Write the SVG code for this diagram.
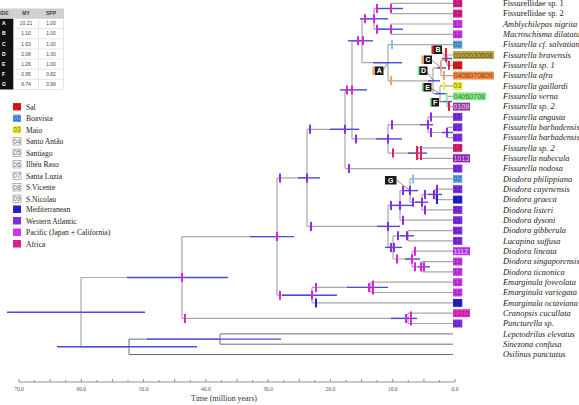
<svg xmlns="http://www.w3.org/2000/svg" xmlns:xlink="http://www.w3.org/1999/xlink" width="579" height="405" viewBox="0 0 579 405">
<style>
.br{stroke:#a8a8a8;stroke-width:1.2;fill:none}
.og{stroke:#6e6e6e;stroke-width:1;fill:none}
.hpd{stroke:#4a4ae2;stroke-width:1.4}
.tk{stroke-width:2;fill:none}
.m{stroke:#e020e0}.p{stroke:#8a2be8}.r{stroke:#e8203a}.r2{stroke:#e0205e}.b{stroke:#2020c8}
.lb{stroke:#80c0ee}.o{stroke:#f0a060}.y{stroke:#eeee40}.g{stroke:#a0eea0}
.sp{font-family:"Liberation Serif","Times New Roman",serif;font-size:8.4px;font-style:italic;fill:#222}
.up{font-style:normal}
.bt{font-family:"Liberation Sans",Arial,sans-serif;font-size:7px}
.lg{font-family:"Liberation Serif","Times New Roman",serif;font-size:7.6px;fill:#222}
.tb{font-family:"Liberation Sans",Arial,sans-serif;font-size:5px;fill:#444;text-anchor:middle}
.ax{font-family:"Liberation Serif","Times New Roman",serif;font-size:5.5px;fill:#555;text-anchor:middle}
.lt{font-family:"Liberation Sans",Arial,sans-serif;font-size:7px;font-weight:bold;fill:#fff;text-anchor:middle}
.ld{stroke:#444;stroke-width:0.6}
</style>
<defs>
<path id="tk" d="M0-4.5V4.5"/>
<path id="tkl" d="M0-7V7"/>
</defs>

<!-- table -->
<g id="table">
<rect x="-2" y="8.5" width="66" height="10" fill="#d0d0d0"/>
<rect x="-2" y="18.5" width="15.5" height="71" fill="#111"/>
<g stroke="#d4d4d4" stroke-width="0.6" fill="none">
<path d="M13.5 8.5V89.5M38.5 8.5V89.5M63.5 8.5V89.5M-2 18.5H63.5M13.5 28.6H63.5M13.5 38.8H63.5M13.5 48.9H63.5M13.5 59H63.5M13.5 69.2H63.5M13.5 79.3H63.5M13.5 89.5H63.5"/>
</g>
<text class="tb" x="8.5" y="15.3" style="text-anchor:end;font-weight:bold">CODE</text>
<text class="tb" x="26" y="15.3" style="font-weight:bold">MY</text>
<text class="tb" x="51" y="15.3" style="font-weight:bold">SPP</text>
<g class="tb" style="fill:#fff;font-weight:bold;text-anchor:start">
<text x="2" y="25.3">A</text><text x="2" y="35.4">B</text><text x="2" y="45.5">C</text><text x="2" y="55.6">D</text><text x="2" y="65.8">E</text><text x="2" y="75.9">F</text><text x="2" y="86">G</text>
</g>
<text class="tb" x="26" y="25.3">10.21</text><text class="tb" x="51" y="25.3">1.00</text>
<text class="tb" x="26" y="35.4">1.10</text><text class="tb" x="51" y="35.4">1.00</text>
<text class="tb" x="26" y="45.5">1.63</text><text class="tb" x="51" y="45.5">1.00</text>
<text class="tb" x="26" y="55.6">2.08</text><text class="tb" x="51" y="55.6">1.00</text>
<text class="tb" x="26" y="65.8">1.26</text><text class="tb" x="51" y="65.8">1.00</text>
<text class="tb" x="26" y="75.9">0.95</text><text class="tb" x="51" y="75.9">0.82</text>
<text class="tb" x="26" y="86">6.74</text><text class="tb" x="51" y="86">0.99</text>
</g>

<!-- legend -->
<g id="legend">
<g id="lg-01"><rect x="13" y="103" width="8" height="7.5" fill="#e01c1c"/><text class="bt" x="13.3" y="109.2" fill="#960808" style="font-size:6.5px">01</text><text class="lg" x="26" y="109.5">Sal</text></g>
<g id="lg-02"><rect x="13" y="114.5" width="8" height="7.5" fill="#5fa8e0"/><text class="bt" x="13.3" y="120.7" fill="#1c4c94" style="font-size:6.5px">02</text><text class="lg" x="26" y="121">Boavista</text></g>
<g id="lg-03"><rect x="13" y="126" width="8" height="7.5" fill="#f2ee3a"/><text class="bt" x="13.3" y="132.2" fill="#707000" style="font-size:6.5px">03</text><text class="lg" x="26" y="132.5">Maio</text></g>
<g id="lg-04"><rect x="13" y="137.5" width="8" height="7.5" fill="#fff" stroke="#888" stroke-width="0.6"/><text class="bt" x="13.3" y="143.7" fill="#666" style="font-size:6.5px">04</text><text class="lg" x="26" y="144">Santo Antão</text></g>
<g id="lg-05"><rect x="13" y="149" width="8" height="7.5" fill="#fff" stroke="#888" stroke-width="0.6"/><text class="bt" x="13.3" y="155.2" fill="#666" style="font-size:6.5px">05</text><text class="lg" x="26" y="155.5">Santiago</text></g>
<g id="lg-06"><rect x="13" y="160.5" width="8" height="7.5" fill="#fff" stroke="#888" stroke-width="0.6"/><text class="bt" x="13.3" y="166.7" fill="#666" style="font-size:6.5px">06</text><text class="lg" x="26" y="167">Ilhéu Raso</text></g>
<g id="lg-07"><rect x="13" y="172" width="8" height="7.5" fill="#fff" stroke="#888" stroke-width="0.6"/><text class="bt" x="13.3" y="178.2" fill="#666" style="font-size:6.5px">07</text><text class="lg" x="26" y="178.5">Santa Luzia</text></g>
<g id="lg-08"><rect x="13" y="183.5" width="8" height="7.5" fill="#fff" stroke="#888" stroke-width="0.6"/><text class="bt" x="13.3" y="189.7" fill="#666" style="font-size:6.5px">08</text><text class="lg" x="26" y="190">S.Vicente</text></g>
<g id="lg-09"><rect x="13" y="195" width="8" height="7.5" fill="#fff" stroke="#888" stroke-width="0.6"/><text class="bt" x="13.3" y="201.2" fill="#666" style="font-size:6.5px">09</text><text class="lg" x="26" y="201.5">S.Nicolau</text></g>
<g id="lg-10"><rect x="13" y="205.5" width="8" height="7.5" fill="#2222c8"/><text class="lg" x="26" y="212">Mediterranean</text></g>
<g id="lg-11"><rect x="13" y="217" width="8" height="7.5" fill="#7a30e0"/><text class="lg" x="26" y="223.5">Western Atlantic</text></g>
<g id="lg-12"><rect x="13" y="228.5" width="8" height="7.5" fill="#c93ae6"/><text class="lg" x="26" y="235">Pacific (Japan + California)</text></g>
<g id="lg-13"><rect x="13" y="240" width="8" height="7.5" fill="#d8228a"/><text class="lg" x="26" y="246.5">Africa</text></g>
</g>

<!-- connectors -->
<g id="connectors">
<path class="br" d="M81 277.5V346.8M81 277.5H182M81 346.8H129"/>
<path class="og" d="M129 339.1V354.5M129 339.1H220M129 354.5H453"/>
<path class="og" d="M220 333.9V344.2M220 333.9H453M220 344.2H453"/>
<path class="br" d="M182 236.6V318.4M182 236.6H277M182 318.4H408"/>
<path class="br" d="M408 313.2V323.5M408 313.2H453M408 323.5H453"/>
<path class="br" d="M277 177.9V295.2M277 177.9H307M277 295.2H312"/>
<path class="br" d="M312 287.4V302.9M312 287.4H371M312 302.9H453"/>
<path class="br" d="M371 282.2V292.5M371 282.2H453M371 292.5H453"/>
<path class="br" d="M307 129.3V226.4M307 129.3H345M307 226.4H388"/>
<path class="br" d="M345 89.9V168.6M345 89.9H352M345 168.6H453"/>
<path class="br" d="M352 40.8V138.9M352 40.8H362M352 138.9H388"/>
<path class="br" d="M362 18.8V62.7M362 18.8H374M362 62.7H388"/>
<path class="br" d="M374 8.5V29.2M374 8.5H391M374 29.2H391"/>
<path class="br" d="M391 3.3V13.6M391 3.3H453M391 13.6H453"/>
<path class="br" d="M391 24V34.3M391 24H453M391 34.3H453"/>
<path class="br" d="M388 44.6V80.8M388 44.6H453M388 80.8H433"/>
<path class="br" d="M433 67.9V93.7M433 67.9H441M433 93.7H440"/>
<path class="br" d="M441 60.2V75.6M441 60.2H447M441 75.6H453"/>
<path class="br" d="M447 55V65.3M447 55H453M447 65.3H453"/>
<path class="br" d="M440 85.9V101.5M440 85.9H453M440 101.5H447"/>
<path class="br" d="M447 96.3V106.6M447 96.3H453M447 106.6H453"/>
<path class="br" d="M388 124.7V153.1M388 124.7H428M388 153.1H418"/>
<path class="br" d="M428 116.9V132.5M428 116.9H453M428 132.5H447"/>
<path class="br" d="M447 127.3V137.6M447 127.3H453M447 137.6H453"/>
<path class="br" d="M418 147.9V158.3M418 147.9H453M418 158.3H453"/>
<path class="br" d="M388 205.4V247.4M388 205.4H400M388 247.4H393"/>
<path class="br" d="M400 190.6V220.2M400 190.6H410M400 220.2H453"/>
<path class="br" d="M410 178.9V202.2M410 178.9H453M410 202.2H422"/>
<path class="br" d="M422 194.4V209.9M422 194.4H435M422 209.9H453"/>
<path class="br" d="M435 189.2V199.6M435 189.2H453M435 199.6H453"/>
<path class="br" d="M393 235.8V259M393 235.8H408M393 259H412"/>
<path class="br" d="M408 230.6V240.9M408 230.6H453M408 240.9H453"/>
<path class="br" d="M412 251.2V266.8M412 251.2H453M412 266.8H422"/>
<path class="br" d="M422 261.6V271.9M422 261.6H453M422 271.9H453"/>
<g class="ld">
<path d="M383 70L388 62.7M441 51L446 58M431.5 60L441 67.5M426.5 71L433 80.5M430 88L440 93.5M438 102L446 101.5M396.5 180L410 190.5"/>
</g>
</g>

<!-- internal nodes: HPD bars and state ticks -->
<g id="n-root"><path class="hpd" d="M7 312.2H145"/></g>
<g id="n-out"><path class="hpd" d="M57 346.8H197"/></g>
<g id="n-lepsin"><path class="hpd" d="M147 339.1H281"/></g>
<g id="n-ingroup"><path class="hpd" d="M127 277.5H228"/><use href="#tk" x="182" y="277.5" class="tk m"/></g>
<g id="n-cranpunc"><path class="hpd" d="M391 318.4H417"/><use href="#tk" x="185" y="318.4" class="tk m"/><use href="#tk" x="406" y="318.4" class="tk m"/><use href="#tkl" x="411" y="318.4" class="tk m"/></g>
<g id="n-fiss"><path class="hpd" d="M250 236.6H294"/><use href="#tk" x="277" y="236.6" class="tk m"/></g>
<g id="n-emarg"><path class="hpd" d="M282 295.2H337"/><use href="#tk" x="280" y="295.2" class="tk m"/><use href="#tk" x="312" y="295.2" class="tk m"/><use href="#tk" x="316" y="302.9" class="tk b"/></g>
<g id="n-emfv"><path class="hpd" d="M347 287.4H388"/><use href="#tk" x="316" y="287.4" class="tk m"/><use href="#tk" x="369" y="287.4" class="tk m"/><use href="#tkl" x="373" y="287.4" class="tk m"/></g>
<g id="n-a1"><path class="hpd" d="M298 177.9H320"/><use href="#tk" x="280" y="177.9" class="tk p"/><use href="#tk" x="307" y="177.9" class="tk p"/></g>
<g id="n-x"><path class="hpd" d="M330 129.3H359"/><use href="#tk" x="310" y="129.3" class="tk p"/><use href="#tk" x="345" y="129.3" class="tk p"/><use href="#tk" x="349" y="168.6" class="tk p"/></g>
<g id="n-y"><path class="hpd" d="M340 89.9H367"/><use href="#tk" x="347" y="89.9" class="tk m"/><use href="#tk" x="352" y="89.9" class="tk m"/></g>
<g id="n-z"><path class="hpd" d="M348 40.8H373"/><use href="#tk" x="358" y="40.8" class="tk m"/><use href="#tk" x="363" y="40.8" class="tk m"/></g>
<g id="n-t"><path class="hpd" d="M360 18.8H388"/><use href="#tk" x="365" y="18.8" class="tk m"/><use href="#tk" x="374" y="18.8" class="tk m"/></g>
<g id="n-ff"><path class="hpd" d="M378 8.5H403"/><use href="#tk" x="377" y="8.5" class="tk m"/><use href="#tk" x="391" y="8.5" class="tk m"/></g>
<g id="n-am"><path class="hpd" d="M378 29.2H403"/><use href="#tk" x="377" y="29.2" class="tk m"/><use href="#tk" x="391" y="29.2" class="tk m"/></g>
<g id="n-A"><path class="hpd" d="M373 62.7H402"/><use href="#tk" x="392" y="44.6" class="tk lb"/><use href="#tk" x="391" y="80.8" class="tk o"/></g>
<g id="n-D"><path class="hpd" d="M428 80.8H440"/></g>
<g id="n-C"><path class="hpd" d="M437 67.9H446"/><use href="#tk" x="441" y="66" class="tk o"/><use href="#tk" x="444" y="75.6" class="tk o"/></g>
<g id="n-B"><path class="hpd" d="M442 58.5H452"/><use href="#tkl" x="446" y="55" class="tk r"/><use href="#tk" x="449" y="65.3" class="tk r"/></g>
<g id="n-E"><path class="hpd" d="M435 93.7H448"/><use href="#tk" x="444" y="85.9" class="tk y"/></g>
<g id="n-F"><path class="hpd" d="M443 101.5H452"/><use href="#tk" x="447" y="97" class="tk g"/><use href="#tk" x="449" y="106.6" class="tk r"/></g>
<g id="n-g2"><path class="hpd" d="M376 138.9H402"/><use href="#tk" x="356" y="138.9" class="tk p"/><use href="#tk" x="388" y="138.9" class="tk p"/></g>
<g id="n-n1"><path class="hpd" d="M420 124.7H433"/><use href="#tk" x="392" y="124.7" class="tk p"/><use href="#tk" x="428" y="124.7" class="tk p"/><use href="#tk" x="431" y="116.9" class="tk p"/></g>
<g id="n-bb"><path class="hpd" d="M442 132.5H453"/><use href="#tk" x="431" y="132.5" class="tk p"/><use href="#tk" x="447" y="132.5" class="tk p"/></g>
<g id="n-n2"><path class="hpd" d="M408 153.1H427"/><use href="#tk" x="393" y="153.1" class="tk r2"/><use href="#tkl" x="417" y="153.1" class="tk r2"/><use href="#tkl" x="421" y="153.1" class="tk r2"/></g>
<g id="n-da"><path class="hpd" d="M377 226.4H400"/><use href="#tk" x="311" y="226.4" class="tk p"/><use href="#tk" x="388" y="226.4" class="tk p"/></g>
<g id="n-d1"><path class="hpd" d="M390 205.4H412"/><use href="#tk" x="391" y="205.4" class="tk p"/><use href="#tk" x="400" y="205.4" class="tk p"/><use href="#tk" x="403" y="220.2" class="tk p"/></g>
<g id="n-G"><path class="hpd" d="M402 190.6H418"/><use href="#tk" x="403" y="190.6" class="tk p"/><use href="#tk" x="410" y="190.6" class="tk p"/><use href="#tk" x="413" y="178.9" class="tk lb"/></g>
<g id="n-dg2"><path class="hpd" d="M415 202.2H428"/><use href="#tk" x="413" y="202.2" class="tk p"/><use href="#tk" x="422" y="202.2" class="tk p"/><use href="#tk" x="425" y="209.9" class="tk p"/></g>
<g id="n-dg3"><path class="hpd" d="M428 194.4H442"/><use href="#tk" x="425" y="194.4" class="tk p"/><use href="#tk" x="434" y="194.4" class="tk p"/><use href="#tk" x="437" y="189.2" class="tk p"/><use href="#tk" x="437" y="199.6" class="tk b"/></g>
<g id="n-db"><path class="hpd" d="M385 247.4H402"/><use href="#tk" x="391" y="247.4" class="tk p"/><use href="#tk" x="394" y="247.4" class="tk p"/></g>
<g id="n-gl"><path class="hpd" d="M400 235.8H414"/><use href="#tk" x="398" y="235.8" class="tk p"/><use href="#tk" x="407" y="235.8" class="tk p"/></g>
<g id="n-dl"><path class="hpd" d="M405 259H420"/><use href="#tk" x="397" y="259" class="tk m"/><use href="#tk" x="412" y="259" class="tk m"/><use href="#tk" x="415" y="251.2" class="tk m"/></g>
<g id="n-st"><path class="hpd" d="M418 266.8H430"/><use href="#tk" x="415" y="266.8" class="tk m"/><use href="#tk" x="421" y="266.8" class="tk m"/><use href="#tk" x="424" y="266.8" class="tk m"/></g>

<!-- clade letter labels -->
<g id="lab-A"><rect x="372.5" y="66.5" width="4" height="8.5" fill="#f0a060"/><rect x="375" y="66.5" width="8.5" height="8.5" fill="#1a1a1a"/><text class="lt" x="379.2" y="73.3">A</text></g>
<g id="lab-B"><rect x="431.5" y="45.5" width="4" height="8.5" fill="#e01c1c"/><rect x="434" y="45.5" width="8" height="8.5" fill="#1a1a1a"/><text class="lt" x="438" y="52.3">B</text></g>
<g id="lab-C"><rect x="421.5" y="55.5" width="4" height="8.5" fill="#f0a060"/><rect x="424" y="55.5" width="8" height="8.5" fill="#1a1a1a"/><text class="lt" x="428" y="62.3">C</text></g>
<g id="lab-D"><rect x="417.5" y="66.5" width="4" height="8.5" fill="#90ea90"/><rect x="419.5" y="66.5" width="8" height="8.5" fill="#1a1a1a"/><text class="lt" x="423.5" y="73.3">D</text></g>
<g id="lab-E"><rect x="421.5" y="83" width="4" height="8.5" fill="#90ea90"/><rect x="423.5" y="83" width="8" height="8.5" fill="#1a1a1a"/><text class="lt" x="427.5" y="89.8">E</text></g>
<g id="lab-F"><rect x="429.5" y="98" width="4" height="8.5" fill="#90ea90"/><rect x="431.5" y="98" width="7.5" height="8.5" fill="#1a1a1a"/><text class="lt" x="435.2" y="104.8">F</text></g>
<g id="lab-G"><rect x="385" y="176" width="11.5" height="8.5" fill="#1a1a1a"/><text class="lt" x="390.7" y="182.8">G</text></g>

<!-- tips -->
<g id="tips">
<g id="t01"><rect x="453" y="-0.7" width="9.3" height="8" fill="#d8228a"/><text class="bt" x="453.6" y="5.8" fill="#9a0d5a">13</text><text class="sp up" x="503" y="6">Fissurellidae sp. 1</text></g>
<g id="t02"><rect x="453" y="9.6" width="9.3" height="8" fill="#d8228a"/><text class="bt" x="453.6" y="16.1" fill="#9a0d5a">13</text><text class="sp up" x="503" y="16.4">Fissurellidae sp. 2</text></g>
<g id="t03"><rect x="453" y="20" width="9.3" height="8" fill="#c93ae6"/><text class="bt" x="453.6" y="26.5" fill="#8a14a8">12</text><text class="sp" x="503" y="26.8">Amblychilepas nigrita</text></g>
<g id="t04"><rect x="453" y="30.3" width="9.3" height="8" fill="#c93ae6"/><text class="bt" x="453.6" y="36.8" fill="#8a14a8">12</text><text class="sp" x="503" y="37.1">Macroschisma dilatatum</text></g>
<g id="t05"><rect x="453" y="40.6" width="9.3" height="8" fill="#5fa8e0"/><text class="bt" x="453.6" y="47.1" fill="#1c4c94">02</text><text class="sp" x="503" y="47.4">Fissurella cf. salvatiani</text></g>
<g id="t06"><rect x="453" y="51" width="41" height="8" fill="#bca84a"/><text class="bt" x="453.8" y="57.5" fill="#5a4810">0102030508</text><text class="sp" x="503" y="57.8">Fissurella bravensis</text></g>
<g id="t07"><rect x="453" y="61.3" width="9.3" height="8" fill="#e01c1c"/><text class="bt" x="453.6" y="67.8" fill="#960808">01</text><text class="sp" x="503" y="68.1">Fissurella sp. 1</text></g>
<g id="t08"><rect x="453" y="71.6" width="41" height="8" fill="#f2904a"/><text class="bt" x="453.8" y="78.1" fill="#8a3c06">0406070809</text><text class="sp" x="503" y="78.4">Fissurella  afra</text></g>
<g id="t09"><rect x="453" y="81.9" width="9.3" height="8" fill="#f2ee3a"/><text class="bt" x="453.6" y="88.4" fill="#707000">03</text><text class="sp" x="503" y="88.7">Fissurella gaillardi</text></g>
<g id="t10"><rect x="453" y="92.3" width="33" height="8" fill="#8eea8e"/><text class="bt" x="453.8" y="98.8" fill="#2a7a2a">04060708</text><text class="sp" x="503" y="99.1">Fissurella verna</text></g>
<g id="t11"><rect x="453" y="102.6" width="17" height="8" fill="#903a9e"/><text class="bt" x="453.6" y="109.1" fill="#f4d8f4">0109</text><text class="sp" x="503" y="109.4">Fissurella sp. 2</text></g>
<g id="t12"><rect x="453" y="112.9" width="9.3" height="8" fill="#7a30e0"/><text class="bt" x="453.6" y="119.4" fill="#4d14a8">11</text><text class="sp" x="503" y="119.7">Fissurella angusta</text></g>
<g id="t13"><rect x="453" y="123.3" width="9.3" height="8" fill="#7a30e0"/><text class="bt" x="453.6" y="129.8" fill="#4d14a8">11</text><text class="sp" x="503" y="130.1">Fissurella barbadensis</text></g>
<g id="t14"><rect x="453" y="133.6" width="9.3" height="8" fill="#7a30e0"/><text class="bt" x="453.6" y="140.1" fill="#4d14a8">11</text><text class="sp" x="503" y="140.4">Fissurella barbadensis</text></g>
<g id="t15"><rect x="453" y="143.9" width="9.3" height="8" fill="#d8226e"/><text class="bt" x="453.6" y="150.4" fill="#9a0d44">13</text><text class="sp" x="503" y="150.7">Fissurella sp. 2</text></g>
<g id="t16"><rect x="453" y="154.3" width="17" height="8" fill="#8a1fae"/><text class="bt" x="453.6" y="160.8" fill="#f0c8f0">1013</text><text class="sp" x="503" y="161.1">Fissurella nubecula</text></g>
<g id="t17"><rect x="453" y="164.6" width="9.3" height="8" fill="#7a30e0"/><text class="bt" x="453.6" y="171.1" fill="#4d14a8">11</text><text class="sp" x="503" y="171.4">Fissurella nodosa</text></g>
<g id="t18"><rect x="453" y="174.9" width="9.3" height="8" fill="#5fa8e0"/><text class="bt" x="453.6" y="181.4" fill="#1c4c94">02</text><text class="sp" x="503" y="181.7">Diodora philippiana</text></g>
<g id="t19"><rect x="453" y="185.2" width="9.3" height="8" fill="#7a30e0"/><text class="bt" x="453.6" y="191.7" fill="#4d14a8">11</text><text class="sp" x="503" y="192">Diodora cayenensis</text></g>
<g id="t20"><rect x="453" y="195.6" width="9.3" height="8" fill="#2222c8"/><text class="bt" x="453.6" y="202.1" fill="#16168e">10</text><text class="sp" x="503" y="202.4">Diodora graeca</text></g>
<g id="t21"><rect x="453" y="205.9" width="9.3" height="8" fill="#7a30e0"/><text class="bt" x="453.6" y="212.4" fill="#4d14a8">11</text><text class="sp" x="503" y="212.7">Diodora listeri</text></g>
<g id="t22"><rect x="453" y="216.2" width="9.3" height="8" fill="#7a30e0"/><text class="bt" x="453.6" y="222.7" fill="#4d14a8">11</text><text class="sp" x="503" y="223">Diodora dysoni</text></g>
<g id="t23"><rect x="453" y="226.6" width="9.3" height="8" fill="#7a30e0"/><text class="bt" x="453.6" y="233.1" fill="#4d14a8">11</text><text class="sp" x="503" y="233.4">Diodora gibberula</text></g>
<g id="t24"><rect x="453" y="236.9" width="9.3" height="8" fill="#7a30e0"/><text class="bt" x="453.6" y="243.4" fill="#4d14a8">11</text><text class="sp" x="503" y="243.7">Lucapina suffusa</text></g>
<g id="t25"><rect x="453" y="247.2" width="17" height="8" fill="#b232e6"/><text class="bt" x="453.6" y="253.7" fill="#f0c8ff">1112</text><text class="sp" x="503" y="254">Diodora lineata</text></g>
<g id="t26"><rect x="453" y="257.6" width="9.3" height="8" fill="#c93ae6"/><text class="bt" x="453.6" y="264.1" fill="#8a14a8">12</text><text class="sp" x="503" y="264.4">Diodora singaporensis</text></g>
<g id="t27"><rect x="453" y="267.9" width="9.3" height="8" fill="#c93ae6"/><text class="bt" x="453.6" y="274.4" fill="#8a14a8">12</text><text class="sp" x="503" y="274.7">Diodora ticaonica</text></g>
<g id="t28"><rect x="453" y="278.2" width="9.3" height="8" fill="#c93ae6"/><text class="bt" x="453.6" y="284.7" fill="#8a14a8">12</text><text class="sp" x="503" y="285">Emarginula foveolata</text></g>
<g id="t29"><rect x="453" y="288.5" width="9.3" height="8" fill="#c93ae6"/><text class="bt" x="453.6" y="295" fill="#8a14a8">12</text><text class="sp" x="503" y="295.3">Emarginula variegata</text></g>
<g id="t30"><rect x="453" y="298.9" width="9.3" height="8" fill="#2222c8"/><text class="bt" x="453.6" y="305.4" fill="#16168e">10</text><text class="sp" x="503" y="305.7">Emarginula octaviana</text></g>
<g id="t31"><rect x="453" y="309.2" width="17" height="8" fill="#e030c8"/><text class="bt" x="453.6" y="315.7" fill="#a01080">1213</text><text class="sp" x="503" y="316">Cranopsis cucullata</text></g>
<g id="t32"><rect x="453" y="319.5" width="9.3" height="8" fill="#7a30e0"/><text class="bt" x="453.6" y="326" fill="#4d14a8">11</text><text class="sp" x="503" y="326.3">Puncturella sp.</text></g>
<g id="t33"><text class="sp" x="503" y="336.7">Lepetodrilus elevatus</text></g>
<g id="t34"><text class="sp" x="503" y="347">Sinezona confusa</text></g>
<g id="t35"><text class="sp" x="503" y="357.3">Osilinus punctatus</text></g>
</g>

<!-- axis -->
<g id="axis">
<path d="M19 382H455M19 382V379M34.6 382V380M50.1 382V379M65.7 382V380M81.3 382V379M96.9 382V380M112.4 382V379M128 382V380M143.6 382V379M159.1 382V380M174.7 382V379M190.3 382V380M205.9 382V379M221.4 382V380M237 382V379M252.6 382V380M268.1 382V379M283.7 382V380M299.3 382V379M314.9 382V380M330.4 382V379M346 382V380M361.6 382V379M377.1 382V380M392.7 382V379M408.3 382V380M423.9 382V379M439.4 382V380M455 382V379" stroke="#666" stroke-width="0.7" fill="none"/>
<text class="ax" x="19" y="391">70.0</text>
<text class="ax" x="81.3" y="391">60.0</text>
<text class="ax" x="143.6" y="391">50.0</text>
<text class="ax" x="205.9" y="391">40.0</text>
<text class="ax" x="268.1" y="391">30.0</text>
<text class="ax" x="330.4" y="391">20.0</text>
<text class="ax" x="392.7" y="391">10.0</text>
<text class="ax" x="455" y="391">0.0</text>
<text x="224" y="401" style="font-family:'Liberation Serif','Times New Roman',serif;font-size:8px;fill:#333;text-anchor:middle">Time (million years)</text>
</g>
</svg>
